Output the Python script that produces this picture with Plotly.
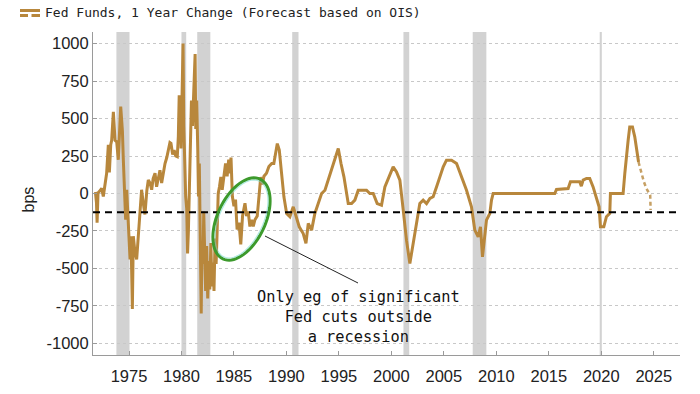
import numpy as np
import plotly.graph_objects as go

# ---------------- data ----------------
years = [
    1971.80, 1971.90, 1971.96, 1972.05, 1972.25, 1972.40, 1972.55, 1972.71, 1972.87,
    1973.03, 1973.13, 1973.26, 1973.35, 1973.51, 1973.67, 1973.83, 1973.98,
    1974.21, 1974.37, 1974.46, 1974.59, 1974.68, 1974.78, 1974.94,
    1975.10, 1975.19, 1975.32, 1975.41, 1975.55, 1975.73, 1975.89,
    1976.05, 1976.20, 1976.35, 1976.52, 1976.70, 1976.84,
    1977.00, 1977.16, 1977.30, 1977.48, 1977.63, 1977.80, 1977.95,
    1978.11, 1978.25, 1978.43, 1978.60, 1978.75, 1978.90,
    1979.00, 1979.16, 1979.30, 1979.45, 1979.60, 1979.70, 1979.78, 1979.90, 1979.96,
    1980.05, 1980.15, 1980.22, 1980.30, 1980.40, 1980.50, 1980.58, 1980.66, 1980.75,
    1980.85, 1980.95, 1981.05, 1981.15, 1981.30, 1981.36, 1981.45, 1981.55, 1981.62,
    1981.70, 1981.78, 1981.88, 1981.95, 1982.05, 1982.12, 1982.20, 1982.30, 1982.40,
    1982.50, 1982.60, 1982.70, 1982.80, 1982.90, 1983.00, 1983.10, 1983.20, 1983.30,
    1983.40, 1983.50, 1983.62, 1983.75, 1983.88, 1984.05, 1984.20, 1984.35, 1984.50,
    1984.62, 1984.72, 1984.85, 1985.00, 1985.15, 1985.30, 1985.48, 1985.65, 1985.82,
    1986.05, 1986.20, 1986.36, 1986.52, 1986.68, 1986.84, 1987.00, 1987.22, 1987.41,
    1987.55, 1987.70, 1987.86, 1988.10, 1988.33, 1988.60, 1988.80,
    1989.13, 1989.32, 1989.54, 1989.76, 1990.02, 1990.33, 1990.65, 1990.90,
    1991.22, 1991.60, 1991.86, 1992.08, 1992.40, 1992.71, 1993.03, 1993.35, 1993.67,
    1993.98, 1994.30, 1994.62, 1994.94, 1995.20, 1995.48, 1995.89, 1996.21, 1996.52,
    1996.84, 1997.16, 1997.63, 1997.95, 1998.27, 1998.65, 1999.06, 1999.38, 1999.79,
    2000.17, 2000.49, 2000.81, 2001.13, 2001.44, 2001.76, 2002.02, 2002.33, 2002.71,
    2003.03, 2003.35, 2003.67, 2003.98, 2004.30, 2004.62, 2004.94, 2005.25, 2005.73,
    2006.21, 2006.68, 2007.16, 2007.63, 2007.95, 2008.27, 2008.49, 2008.68, 2008.90,
    2009.06, 2009.38, 2009.54, 2009.70, 2015.57, 2015.73, 2016.84, 2017.06, 2017.95,
    2018.10, 2018.27, 2018.59, 2018.90, 2019.22, 2019.54, 2019.79, 2019.92, 2020.24,
    2020.49, 2020.81, 2020.87, 2022.08, 2022.24, 2022.40, 2022.56, 2022.71, 2022.97,
    2023.19, 2023.41, 2023.55,
]
fed_change = [
    10, -60, -195, 5, 20, 35, -20, 45, 135,
    325, 140, 325, 355, 545, 355, 345, 225,
    580, 420, 225, 25, -175, 25, -220,
    -440, -285, -770, -285, -380, -440, -285,
    -110, 25, -60, -140, 20, 90,
    70, 25, 100, 135, 45, 120, 155,
    70, 140, 200, 240, 290, 340,
    335, 260, 290, 250, 245, 380, 645, 645, 300,
    640, 1000, 450, 150, -20, -100, -400, -250, 30,
    450, 620, 450, 620, 930, 430, 620, 300, -20,
    200, -300, -800, -350, -470, -120, -500, -650, -350,
    -700, -450, -640, -330, -620, -460, -650, -300, -470,
    -250, 0, 45, 110, 25, 110, 200, 115, 225,
    135, 240, -20, -85, -40, -240, -195, -340, -150,
    -65, -150, -120, -220, -175, -220, -175, -150, 0,
    110, 60, 115, 135, 180, 200, 200,
    333, 290, 133, -22, -133, -155, -89, -155,
    -222, -267, -333, -200, -244, -133, -67, 0, 22,
    89, 155, 222, 300, 200, 111, -67, -67, -44,
    22, 22, 22, 0, 0, -67, -78, 44, 111,
    178, 144, 89, -111, -311, -467, -355, -222, -67,
    -44, -67, -33, -22, 44, 111, 178, 222, 222,
    200, 111, 22, -89, -244, -289, -222, -422, -267,
    -178, -133, -44, 0, 0, 27, 33, 78, 78,
    49, 89, 100, 100, 44, -22, -89, -222, -222,
    -155, -133, 0, 0, 133, 267, 355, 444, 444,
    378, 289, 210,
]
# OIS-implied forecast
fc_years = [2023.55, 2023.85, 2024.05, 2024.30, 2024.66, 2024.70]
fc_change = [210, 120, 80, 33, -10, -110]

# recessions (shaded)
rec_start = [1973.80, 1980.00, 1981.50, 1990.55, 2001.15, 2007.75, 2019.85]
rec_end = [1975.05, 1980.45, 1982.75, 1991.15, 2001.70, 2009.05, 2020.05]

ref_level = -125
x_ticks = [1975, 1980, 1985, 1990, 1995, 2000, 2005, 2010, 2015, 2020, 2025]
y_ticks = [-1000, -750, -500, -250, 0, 250, 500, 750, 1000]
y_tick_text = ["-1000", "-750", "-500", "-250", "0", "250", "500", "750", "1000"]

# ---------------- layout geometry (page pixels) ----------------
W, H = 700, 394
PL, PR, PT, PB = 93, 680, 32, 355          # plot area in page pixels
ML, MT = PL, PT
PW, PH = PR - PL, PB - PT
MR, MB = W - ML - PW, H - MT - PH
XR = [1971.57, 2027.5]
YR = [-1077, 1077]

def px2x(px):
    return XR[0] + (px - PL) / PW * (XR[1] - XR[0])

def py2y(py):
    return YR[1] - (py - PT) / PH * (YR[1] - YR[0])

def pxp(px):
    return (px - PL) / PW

def pyp(py):
    return (PB - py) / PH

LINE_COL = "#b8873c"
FC_COL = "#c6a064"
TICK_FONT = dict(family="Liberation Sans, Arial, sans-serif", size=16.5, color="#222")
MONO = "DejaVu Sans Mono, monospace"

fig = go.Figure()
fig.add_trace(go.Scatter(x=years, y=fed_change, mode="lines",
                         line=dict(color=LINE_COL, width=3),
                         showlegend=False, hoverinfo="skip"))
fig.add_trace(go.Scatter(x=fc_years, y=fc_change, mode="lines",
                         line=dict(color=FC_COL, width=2.5, dash="4px,3px"),
                         showlegend=False, hoverinfo="skip"))

shapes = []
for s, e in zip(rec_start, rec_end):
    shapes.append(dict(type="rect", xref="x", yref="paper", x0=s, x1=e, y0=0, y1=1,
                       fillcolor="#d2d2d2", line=dict(width=0), layer="below"))
shapes.append(dict(type="line", xref="paper", yref="y", x0=0, x1=1, y0=ref_level, y1=ref_level,
                   line=dict(color="#000", width=2, dash="7px,5px"), layer="above"))

# green ellipse annotation
cx, cy, a, b, th = 241.5, 219.0, 44.0, 24.0, np.deg2rad(65)
t = np.linspace(0, 2 * np.pi, 73)
ex = cx + a * np.cos(t) * np.cos(th) - b * np.sin(t) * np.sin(th)
ey = cy - a * np.cos(t) * np.sin(th) - b * np.sin(t) * np.cos(th)
path = "M " + " L ".join(f"{px2x(x):.4f},{py2y(y):.2f}" for x, y in zip(ex, ey)) + " Z"
shapes.append(dict(type="path", xref="x", yref="y", path=path,
                   line=dict(color="#3c9a2c", width=3), layer="above"))
ex2 = cx + (a - 2.2) * np.cos(t) * np.cos(th) - (b - 2.2) * np.sin(t) * np.sin(th)
ey2 = cy - (a - 2.2) * np.cos(t) * np.sin(th) - (b - 2.2) * np.sin(t) * np.cos(th)
path2 = "M " + " L ".join(f"{px2x(x):.4f},{py2y(y):.2f}" for x, y in zip(ex2, ey2)) + " Z"
shapes.append(dict(type="path", xref="x", yref="y", path=path2,
                   line=dict(color="rgba(110,215,200,0.55)", width=1.2), layer="above"))
# connector
shapes.append(dict(type="line", xref="x", yref="y",
                   x0=px2x(265), y0=py2y(236), x1=px2x(358), y1=py2y(283),
                   line=dict(color="#222", width=1)))
# legend icon
shapes.append(dict(type="line", xref="paper", yref="paper",
                   x0=pxp(20), x1=pxp(40), y0=pyp(10.5), y1=pyp(10.5),
                   line=dict(color=LINE_COL, width=3)))
shapes.append(dict(type="line", xref="paper", yref="paper",
                   x0=pxp(20), x1=pxp(28), y0=pyp(15.5), y1=pyp(15.5),
                   line=dict(color=LINE_COL, width=3)))
shapes.append(dict(type="line", xref="paper", yref="paper",
                   x0=pxp(31.5), x1=pxp(40), y0=pyp(15.5), y1=pyp(15.5),
                   line=dict(color=LINE_COL, width=3)))

annotations = [
    dict(text="Fed Funds, 1 Year Change (Forecast based on OIS)", xref="paper", yref="paper",
         x=pxp(43), y=pyp(12.5), xanchor="left", yanchor="middle", showarrow=False,
         font=dict(family=MONO, size=13, color="#222")),
    dict(text="bps", xref="paper", yref="paper", x=pxp(27.5), y=pyp(200), textangle=-90,
         xanchor="center", yanchor="middle", showarrow=False,
         font=dict(family="Liberation Sans, Arial, sans-serif", size=16, color="#222")),
    dict(text="Only eg of significant<br>Fed cuts outside<br>a recession", xref="x", yref="y",
         x=px2x(358), y=py2y(317), xanchor="center", yanchor="middle", showarrow=False,
         align="center", font=dict(family=MONO, size=15.3, color="#111")),
]

fig.update_layout(
    width=W, height=H, autosize=False,
    margin=dict(l=ML, r=MR, t=MT, b=MB, pad=0, autoexpand=False),
    plot_bgcolor="white", paper_bgcolor="white",
    shapes=shapes, annotations=annotations, showlegend=False,
    xaxis=dict(range=XR, tickmode="array", tickvals=x_ticks, showgrid=False, zeroline=False,
               showline=True, linecolor="#9a9a9a", linewidth=1, ticks="inside", ticklen=4,
               tickcolor="#9a9a9a", tickfont=TICK_FONT, ticklabelstandoff=6, automargin=False),
    yaxis=dict(range=YR, tickmode="array", tickvals=y_ticks, ticktext=y_tick_text,
               showgrid=True, gridcolor="#c8c8c8", griddash="dot", gridwidth=1,
               zeroline=False, showline=True, linecolor="#9a9a9a", linewidth=1,
               ticks="inside", ticklen=4, tickcolor="#9a9a9a", tickfont=TICK_FONT,
               automargin=False),
)

# remove the browser's default 8px body margin so the figure fills the window exactly
fig.write_html("out.html", config={"displayModeBar": False},
               post_script="document.body.style.margin='0';document.body.style.overflow='hidden';")
